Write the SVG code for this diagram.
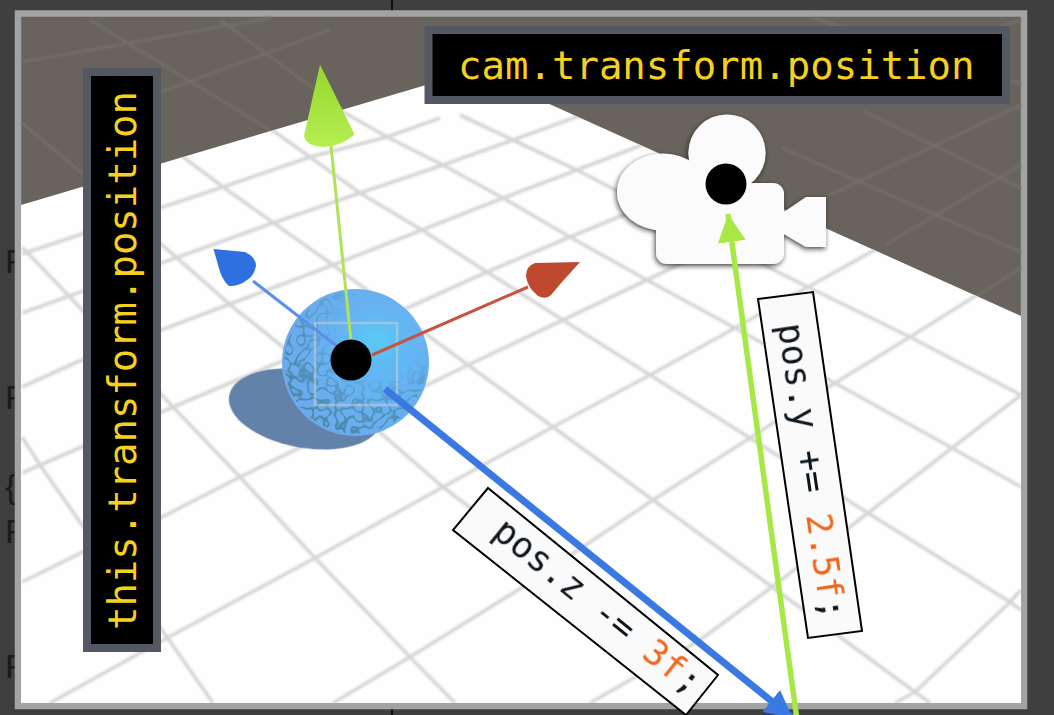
<svg xmlns="http://www.w3.org/2000/svg" width="1054" height="715" viewBox="0 0 1054 715">
<style>
.g{fill:none;stroke:#d6d6d6;stroke-width:3.6;stroke-linecap:butt}
.gd{fill:none;stroke:#75706a;stroke-width:2.5}
.box{fill:#000;stroke:#535862;stroke-width:8}
.yl{font-family:"DejaVu Sans Mono","Liberation Mono",monospace;font-size:39px;fill:#f6d01f}
.lb{fill:#fafafa;stroke:#000;stroke-width:2}
.cd{font-family:"DejaVu Sans Mono","Liberation Mono",monospace;font-size:35.5px;fill:#10131c;filter:url(#txt)}
.or{fill:#f2661c}
.dot{fill:#000}
.frag{font-family:"Liberation Sans",sans-serif;font-size:34px;fill:#1b1b1b}
</style>
<defs>
<filter id="soft" x="-5%" y="-5%" width="110%" height="110%"><feGaussianBlur stdDeviation="0.8"/></filter>
<filter id="soft2" x="-10%" y="-10%" width="120%" height="120%"><feGaussianBlur stdDeviation="0.6"/></filter>
<filter id="txt" x="-5%" y="-30%" width="110%" height="160%"><feGaussianBlur stdDeviation="0.35"/></filter>
<filter id="glow" x="-50%" y="-50%" width="200%" height="200%"><feGaussianBlur stdDeviation="9"/></filter>
<filter id="camShadow" x="-20%" y="-20%" width="140%" height="140%"><feDropShadow dx="-1" dy="2" stdDeviation="2.5" flood-color="#1f1f1f" flood-opacity="0.8"/></filter>
<filter id="mesh" x="0" y="0" width="100%" height="100%">
<feTurbulence type="turbulence" baseFrequency="0.11" numOctaves="1" seed="11"/>
<feColorMatrix type="matrix" values="0 0 0 0 0.07  0 0 0 0 0.24  0 0 0 0 0.38  0 0 0 -10 1.5"/>
<feGaussianBlur stdDeviation="0.5"/>
</filter>
<radialGradient id="sph" cx="0.66" cy="0.42" r="0.72">
<stop offset="0" stop-color="#5cbcf6"/><stop offset="0.45" stop-color="#67b2f2"/><stop offset="1" stop-color="#6ca8ea"/>
</radialGradient>
<radialGradient id="meshFade" cx="0.66" cy="0.3" r="0.8">
<stop offset="0.35" stop-color="#fff" stop-opacity="0"/><stop offset="0.65" stop-color="#fff" stop-opacity="0.7"/><stop offset="0.9" stop-color="#fff"/>
</radialGradient>
<linearGradient id="cone" x1="0" y1="0" x2="0" y2="1">
<stop offset="0" stop-color="#94d62e"/><stop offset="1" stop-color="#b6ee52"/>
</linearGradient>
<mask id="meshMask" maskUnits="userSpaceOnUse" x="280" y="288" width="152" height="150"><rect x="280" y="288" width="152" height="150" fill="url(#meshFade)"/></mask>
<clipPath id="sphClip"><circle cx="355.5" cy="362.5" r="71"/></clipPath>
<clipPath id="floorClip"><path d="M21 205L475 70.600L1021 316V703H21Z"/></clipPath>
<marker id="headBlue" markerUnits="userSpaceOnUse" markerWidth="30" markerHeight="30" refX="28" refY="15" orient="auto"><path d="M0 1L28 15L0 29Z" fill="#3a78e2"/></marker>
<marker id="headGreen" markerUnits="userSpaceOnUse" markerWidth="30" markerHeight="30" refX="28" refY="14" orient="auto"><path d="M0 0L28 14L0 28Z" fill="#a8e846"/></marker>
</defs>

<rect width="1054" height="715" fill="#3f3f3f"/>
<path d="M392 0V11M392 708V715" stroke="#0e0e0e" stroke-width="2" fill="none"/>
<g id="editor-fragments">
<text class="frag" x="5" y="273">F</text>
<text class="frag" x="5" y="409">F</text>
<text class="frag" x="5" y="543">F</text>
<text class="frag" x="5" y="678">F</text>
<text class="frag" x="5" y="498">{</text>
</g>

<g id="scene">
<rect x="18" y="13.500" width="1006" height="692.500" fill="#68635d" stroke="#a0a4a2" stroke-width="6.500"/>
<g filter="url(#soft)">
<path class="gd" d="M22 123L120 205M90 20L270 130M220 20L350 115M22 62L270 18M90 118L330 30M813 18L1021 84M863 111L1021 188M782 148L1021 252M830 195L1021 105M885 245L1021 165M975 297L1021 268M900 60L1021 20"/>
</g>
<path id="floor" d="M21 205L475 70.600L1021 316V703H21Z" fill="#fefefe" filter="url(#soft2)"/>
<g clip-path="url(#floorClip)">
<g id="grid" filter="url(#soft)">
<path class="g" d="M170 147L223 187L333 265L468 365L553 427L653 500L772 587L915 692L930 703"/>
<path class="g" d="M258 120L310 157L360 193L422 230L487 272L563 320L650 375L750 438L868 513L1010 602L1021 610"/>
<path class="g" d="M340 110L387 137L443 165L503 198L570 237L647 280L735 328L835 383L952 448L1021 487"/>
<path class="g" d="M460 115L513 140L577 170L650 208L808 287L910 337L1021 395"/>
<path class="g" d="M100 190L160 243L233 307L283 347L383 435L443 487L473 510L573 595L640 655L692 703"/>
<path class="g" d="M22 247L70 297L173 407L240 477L315 558L410 657L455 703"/>
<path class="g" d="M22 437L40 465L82 525L162 630L213 703"/>
<path class="g" d="M22 254L223 187L310 157L387 137L440 118"/>
<path class="g" d="M22 313L273 223L360 193L443 165L513 140L590 112"/>
<path class="g" d="M22 387L77 362L333 265L422 230L503 198L577 170L655 140"/>
<path class="g" d="M22 473L173 407L403 310L487 272L570 237L655 202"/>
<path class="g" d="M22 582L83 552L162 517L240 477L468 365L563 320L647 280L705 252"/>
<path class="g" d="M50 703L167 638L315 558L443 487L553 427L650 375L735 328L808 287L900 236"/>
<path class="g" d="M333 703L410 657L523 587L653 500L750 438L835 383L910 337L985 290"/>
<path class="g" d="M590 703L700 640L772 587L868 513L952 448L1021 395"/>
<path class="g" d="M895 703L915 692L1010 602L1021 590"/>
</g>
</g>
</g>

<g id="sphere-object">
<ellipse cx="305" cy="409" rx="77" ry="39" transform="rotate(10 305 409)" fill="#6482aa" filter="url(#soft2)"/>
<circle cx="355.500" cy="362.500" r="73.500" fill="url(#sph)" filter="url(#soft2)"/>
<ellipse cx="376" cy="338" rx="20" ry="14" fill="#58d8f4" opacity="0.55" filter="url(#glow)"/>
<g clip-path="url(#sphClip)"><g mask="url(#meshMask)"><rect x="280" y="288" width="152" height="150" filter="url(#mesh)"/></g></g>
<rect x="315" y="323" width="82" height="82" fill="none" stroke="#c9d0cf" stroke-opacity="0.55" stroke-width="2.500"/>
</g>

<g id="gizmo" filter="url(#soft2)">
<path d="M331 146L351 341" stroke="#b0e35a" stroke-width="3" fill="none"/>
<path d="M320 64.500L354.600 134.500Q340 147 323 147Q306 146 304 136Z" fill="url(#cone)"/>
<path d="M253 281L338 347" stroke="#5b8fe8" stroke-width="3" fill="none"/>
<path d="M213.500 249L245 252Q256 257 256 266Q254 276 247 280Q240 286 229 286Q224 282 220 272Z" fill="#2f70e0"/>
<path d="M372 355L528 287" stroke="#c5553f" stroke-width="3" fill="none"/>
<path d="M580 262L535 263Q526 266 526 276Q527 287 538 296Q546 300 551 295L562 282Z" fill="#be4a2e"/>
</g>

<g id="camera" filter="url(#camShadow)" fill="#fbfbfb">
<circle cx="727" cy="153" r="38.600"/>
<ellipse cx="663" cy="192" rx="46" ry="38.500"/>
<rect x="656" y="183" width="128" height="81" rx="11"/>
<path d="M680 170H720V190H680Z"/>
<path d="M784 212L806 197H826V247H806L784 234Z"/>
</g>

<g id="cam-label">
<rect class="box" x="428.500" y="30" width="577.500" height="70"/>
<text class="yl" x="458" y="79">cam.transform.position</text>
</g>
<g id="this-label">
<rect class="box" x="87" y="72" width="70" height="576"/>
<text class="yl" transform="translate(136 630) rotate(-90)" textLength="539">this.transform.position</text>
</g>

<g id="connectors">
<line x1="385" y1="389" x2="793" y2="718.500" stroke="#3a78e2" stroke-width="7" marker-end="url(#headBlue)"/>
<line x1="797" y1="720" x2="728" y2="214" stroke="#a8e846" stroke-width="5.500" marker-end="url(#headGreen)"/>
</g>

<g id="pos-z-label">
<path class="lb" d="M488 488L718 675L686 715L453 530Z"/>
<text class="cd" transform="translate(491 535) rotate(39)">pos.z -= <tspan class="or">3f</tspan>;</text>
</g>
<g id="pos-y-label">
<path class="lb" d="M758 299L813 292L862 631L808 638Z"/>
<text class="cd" transform="translate(778 325) rotate(81.600)">pos.y += <tspan class="or">2.5f</tspan>;</text>
</g>

<circle id="this-point" class="dot" cx="351" cy="360" r="20.500"/>
<circle id="cam-point" class="dot" cx="726" cy="184" r="20.500"/>
</svg>
